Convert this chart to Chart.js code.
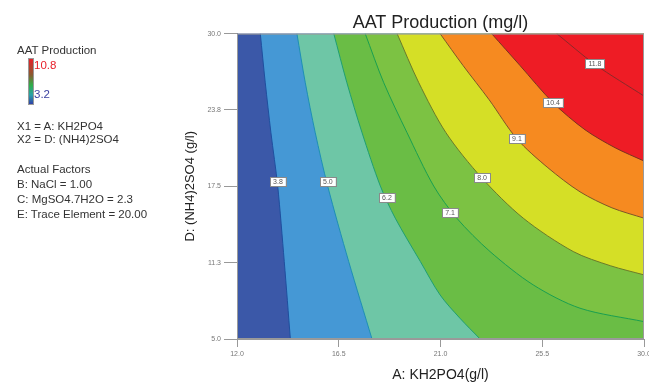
<!DOCTYPE html>
<html>
<head>
<meta charset="utf-8">
<script src="https://cdn.jsdelivr.net/npm/chart.js@4.4.1/dist/chart.umd.min.js"></script>
<style>
    body { margin: 0; background: #fff; }
    #wrap { position: relative; width: 649px; height: 385px; font-family: "Liberation Sans", Arial, sans-serif; }
    #chart { position: absolute; left: 0; top: 0; }
    .side { position: absolute; left: 17px; font-size: 11.5px; line-height: 14px; color: #333; white-space: nowrap; }
    #bar { position: absolute; left: 28px; top: 58px; width: 4px; height: 45px; border: 1px solid #999;
        background: linear-gradient(to bottom, #e8202a 0%, #8a5a30 35%, #2fae48 58%, #2aa0a8 80%, #3040a8 100%); }
</style>
</head>
<body>
<div id="wrap">
    <canvas id="chart" width="649" height="385"></canvas>
    <div class="side" style="top:43px;">AAT Production</div>
    <div id="bar"></div>
    <div class="side" style="top:58px; left:34px; color:#e8202a;">10.8</div>
    <div class="side" style="top:87px; left:34px; color:#3a3fa0;">3.2</div>
    <div class="side" style="top:119px;">X1 = A: KH2PO4</div>
    <div class="side" style="top:132px;">X2 = D: (NH4)2SO4</div>
    <div class="side" style="top:162px;">Actual Factors</div>
    <div class="side" style="top:177px;">B: NaCl = 1.00</div>
    <div class="side" style="top:192px;">C: MgSO4.7H2O = 2.3</div>
    <div class="side" style="top:207px;">E: Trace Element = 20.00</div>
</div>
<script>
// axis ticks
const xTicks = [12.0, 16.5, 21.0, 25.5, 30.0];
const xTickLabels = ["12.0", "16.5", "21.0", "25.5", "30.0"];
const yTicks = [5.0, 11.25, 17.5, 23.75, 30.0];
const yTickLabels = ["5.0", "11.3", "17.5", "23.8", "30.0"];

// contour levels and the lines [KH2PO4, (NH4)2SO4]
const levels = ["3.8", "5.0", "6.2", "7.1", "8.0", "9.1", "10.4", "11.8"];
const line38 = [[13.03, 30], [13.25, 25.98], [13.5, 21.89], [13.8, 17.52], [14.09, 11.34], [14.36, 5]];
const line50 = [[14.65, 30], [15.02, 25.98], [15.46, 21.89], [16.01, 17.52], [16.94, 11.34], [17.97, 5]];
const line62 = [[16.28, 30], [16.86, 25.98], [17.53, 21.89], [18.34, 17.52], [19.0, 14.89], [20.11, 11.34], [20.98, 8.61], [21.86, 6.7], [22.75, 5]];
const line71 = [[17.67, 30], [18.49, 25.98], [19.52, 21.89], [20.7, 17.52], [21.72, 14.89], [23.19, 12.16], [25.1, 9.43], [27.17, 7.52], [30, 6.42]];
const line80 = [[19.08, 30], [20.04, 25.98], [21.24, 21.89], [22.82, 18.2], [24.66, 14.89], [26.87, 12.16], [28.51, 11.0], [30, 10.25]];
const line91 = [[20.98, 30], [22.0, 27.38], [23.15, 24.59], [24.38, 21.38], [25.75, 19.02], [27.17, 17.05], [28.58, 15.74], [30, 14.89]];
const line104 = [[23.26, 30], [24.52, 27.38], [25.98, 24.34], [27.39, 22.13], [28.72, 20.66], [30, 19.57]];
const line118 = [[26.14, 30], [27.83, 27.48], [30, 24.89]];
const contourLines = [line38, line50, line62, line71, line80, line91, line104, line118];
// where the value boxes sit on each line
const labelPos = [[13.81, 17.87], [16.02, 17.87], [18.63, 16.56], [21.42, 15.33], [22.84, 18.2], [24.38, 21.39], [25.98, 24.34], [27.83, 27.54]];

const baseColor = "#3b58a8";
const fillColors = ["#4598d5", "#6ec6a6", "#6abd45", "#7cc243", "#d5df26", "#f68a20", "#ee1c25", null];
const lineColors = ["#1f4f9e", "#1e8fb4", "#1f9f72", "#1a9f50", "#6b7a2a", "#7e5628", "#7a3320", "#8a2a2a"];

const xMin = xTicks[0], xMax = xTicks[xTicks.length - 1];
const yMin = yTicks[0], yMax = yTicks[yTicks.length - 1];

// lines that end on the bottom edge get carried below the plot and across,
// so filling to the top covers everything right of them
const toPoints = (line) => {
    const pts = line.map((p) => ({ x: p[0], y: p[1] }));
    const last = line[line.length - 1];
    if (last[1] === yMin) {
        const prev = line[line.length - 2];
        const k = (last[0] - prev[0]) / (prev[1] - last[1]);
        pts.push({ x: last[0] + k * 2, y: yMin - 2 });
        pts.push({ x: xMax, y: yMin - 2 });
    }
    return pts;
};

const datasets = contourLines.map((line, i) => ({
    label: levels[i],
    data: toPoints(line),
    borderColor: lineColors[i],
    borderWidth: 1,
    backgroundColor: fillColors[i] || "transparent",
    fill: fillColors[i] ? "end" : false,
    pointRadius: 0,
    tension: 0.3,
    order: contourLines.length - i,
}));

const areaPlugin = {
    id: "areaPlugin",
    beforeDatasetsDraw(chart) {
        const { ctx, chartArea: a } = chart;
        ctx.save();
        ctx.fillStyle = baseColor;
        ctx.fillRect(a.left, a.top, a.right - a.left, a.bottom - a.top);
        ctx.restore();
    },
    afterDatasetsDraw(chart) {
        const { ctx, chartArea: a, scales } = chart;
        ctx.save();
        ctx.font = "7px 'Liberation Sans', Arial, sans-serif";
        ctx.textAlign = "center";
        ctx.textBaseline = "middle";
        labelPos.forEach((p, i) => {
            const px = scales.x.getPixelForValue(p[0]);
            const py = scales.y.getPixelForValue(p[1]);
            const w = ctx.measureText(levels[i]).width + 6;
            ctx.fillStyle = "#fff";
            ctx.fillRect(px - w / 2, py - 4.5, w, 9);
            ctx.strokeStyle = "#8a8a8a";
            ctx.lineWidth = 1;
            ctx.strokeRect(Math.round(px - w / 2) + 0.5, Math.round(py - 4.5) + 0.5, Math.round(w), 9);
            ctx.fillStyle = "#555";
            ctx.fillText(levels[i], px, py + 0.5);
        });
        ctx.strokeStyle = "#9a9a9a";
        ctx.lineWidth = 1;
        ctx.strokeRect(a.left + 0.5, a.top + 0.5, a.right - a.left - 1, a.bottom - a.top - 1);
        ctx.restore();
    },
};

const font = "'Liberation Sans', Arial, sans-serif";

new Chart(document.getElementById("chart"), {
    type: "line",
    data: { datasets: datasets },
    options: {
        responsive: false,
        animation: false,
        devicePixelRatio: 1,
        layout: { padding: { left: 177, right: 5, top: 0, bottom: 0 } },
        plugins: {
            legend: { display: false },
            tooltip: { enabled: false },
            title: {
                display: true,
                text: "AAT Production (mg/l)",
                fullSize: false,
                color: "#222",
                font: { family: font, size: 18, weight: "normal" },
                padding: { top: 12, bottom: 0 },
            },
        },
        scales: {
            x: {
                type: "linear",
                min: xMin,
                max: xMax,
                afterBuildTicks: (s) => { s.ticks = xTicks.map((v) => ({ value: v })); },
                afterFit: (s) => { s.height = 46; s.paddingLeft = 0; s.paddingRight = 0; },
                ticks: {
                    callback: (v, i) => xTickLabels[i],
                    color: "#777",
                    font: { family: font, size: 7 },
                    padding: 3,
                    maxRotation: 0,
                },
                grid: { drawOnChartArea: false, drawTicks: true, tickLength: 8, color: "#999" },
                border: { display: true, color: "#999" },
                title: {
                    display: true,
                    text: "A: KH2PO4(g/l)",
                    color: "#222",
                    font: { family: font, size: 14 },
                    padding: { top: 0, bottom: 1 },
                },
            },
            y: {
                type: "linear",
                min: yMin,
                max: yMax,
                afterBuildTicks: (s) => { s.ticks = yTicks.map((v) => ({ value: v })); },
                afterFit: (s) => { s.width = 60; s.paddingTop = 0; s.paddingBottom = 0; },
                ticks: {
                    callback: (v, i) => yTickLabels[i],
                    color: "#777",
                    font: { family: font, size: 7 },
                    padding: 3,
                },
                grid: { drawOnChartArea: false, drawTicks: true, tickLength: 13, color: "#999" },
                border: { display: true, color: "#999" },
                title: {
                    display: true,
                    text: "D: (NH4)2SO4 (g/l)",
                    color: "#222",
                    font: { family: font, size: 13 },
                    padding: { top: 6, bottom: 0 },
                },
            },
        },
    },
    plugins: [areaPlugin],
});
</script>
</body>
</html>
